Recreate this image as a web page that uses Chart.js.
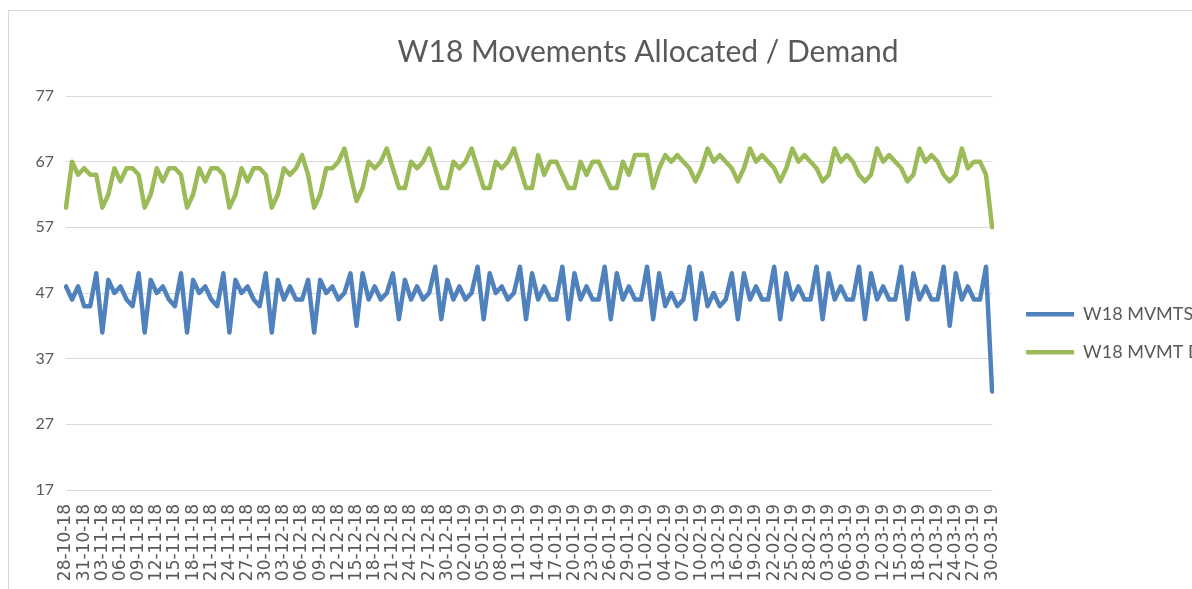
<!DOCTYPE html>
<html>
<head>
<meta charset="utf-8">
<script src="https://cdn.jsdelivr.net/npm/chart.js@4"></script>
<style>
  html, body { margin: 0; padding: 0; background: #fff; overflow: hidden; }
  #frame { position: absolute; left: 8px; top: 10px; width: 1282px; height: 590px; border: 1px solid #d9d9d9; }
  canvas { display: block; }
</style>
</head>
<body>
<div id="frame"><canvas id="myChart" width="1282" height="580"></canvas></div>
<script>
// daily categories 28-10-18 .. 30-03-19
const startDate = new Date(2018, 9, 28);
const dayCount = 154;
const dates = [];
for (let i = 0; i < dayCount; i++) {
  const d = new Date(startDate.getFullYear(), startDate.getMonth(), startDate.getDate() + i);
  const dd = String(d.getDate()).padStart(2, '0');
  const mm = String(d.getMonth() + 1).padStart(2, '0');
  const yy = String(d.getFullYear()).slice(2);
  dates.push(dd + '-' + mm + '-' + yy);
}

// W18 MVMTS (allocated), one row per week
const movements = [
  48, 46, 48, 45, 45, 50, 41,
  49, 47, 48, 46, 45, 50, 41,
  49, 47, 48, 46, 45, 50, 41,
  49, 47, 48, 46, 45, 50, 41,
  49, 47, 48, 46, 45, 50, 41,
  49, 46, 48, 46, 46, 49, 41,
  49, 47, 48, 46, 47, 50, 42,
  50, 46, 48, 46, 47, 50, 43,
  49, 46, 48, 46, 47, 51, 43,
  49, 46, 48, 46, 47, 51, 43,
  50, 47, 48, 46, 47, 51, 43,
  50, 46, 48, 46, 46, 51, 43,
  50, 46, 48, 46, 46, 51, 43,
  50, 46, 48, 46, 46, 51, 43,
  50, 45, 47, 45, 46, 51, 43,
  50, 45, 47, 45, 46, 50, 43,
  50, 46, 48, 46, 46, 51, 43,
  50, 46, 48, 46, 46, 51, 43,
  50, 46, 48, 46, 46, 51, 43,
  50, 46, 48, 46, 46, 51, 43,
  50, 46, 48, 46, 46, 51, 42,
  50, 46, 48, 46, 46, 51, 32
];

// W18 MVMT Demand
const demand = [
  60, 67, 65, 66, 65, 65, 60,
  62, 66, 64, 66, 66, 65, 60,
  62, 66, 64, 66, 66, 65, 60,
  62, 66, 64, 66, 66, 65, 60,
  62, 66, 64, 66, 66, 65, 60,
  62, 66, 65, 66, 68, 65, 60,
  62, 66, 66, 67, 69, 65, 61,
  63, 67, 66, 67, 69, 66, 63,
  63, 67, 66, 67, 69, 66, 63,
  63, 67, 66, 67, 69, 66, 63,
  63, 67, 66, 67, 69, 66, 63,
  63, 68, 65, 67, 67, 65, 63,
  63, 67, 65, 67, 67, 65, 63,
  63, 67, 65, 68, 68, 68, 63,
  66, 68, 67, 68, 67, 66, 64,
  66, 69, 67, 68, 67, 66, 64,
  66, 69, 67, 68, 67, 66, 64,
  66, 69, 67, 68, 67, 66, 64,
  65, 69, 67, 68, 67, 65, 64,
  65, 69, 67, 68, 67, 66, 64,
  65, 69, 67, 68, 67, 65, 64,
  65, 69, 66, 67, 67, 65, 57
];

const yMin = 17;
const yMax = 77;
const yStep = 10;
const labelEvery = 3;

const textColor = '#595959';
const gridColor = '#d9d9d9';

const ctx = document.getElementById('myChart');
window.myChart = new Chart(ctx, {
  type: 'line',
  data: {
    labels: dates,
    datasets: [
      {
        label: 'W18 MVMTS', data: movements,
        borderColor: '#4f81bd', backgroundColor: '#4f81bd', borderWidth: 4.5,
        pointRadius: 0, tension: 0, borderJoinStyle: 'round', borderCapStyle: 'round'
      },
      {
        label: 'W18 MVMT Demand', data: demand,
        borderColor: '#9bbb59', backgroundColor: '#9bbb59', borderWidth: 4.5,
        pointRadius: 0, tension: 0, borderJoinStyle: 'round', borderCapStyle: 'round'
      }
    ]
  },
  options: {
    responsive: false,
    animation: false,
    layout: { padding: { left: 22, right: 26, top: 0, bottom: 0 } },
    plugins: {
      title: {
        display: true,
        text: 'W18 Movements Allocated / Demand',
        color: textColor,
        font: { family: 'Lato', size: 30, weight: 'normal' },
        padding: { top: 23, bottom: 26 }
      },
      legend: {
        position: 'right',
        // empty title only pushes the two entries down a little
        title: { display: true, text: ' ', font: { size: 12 }, padding: { top: 0, bottom: 50 } },
        labels: {
          color: textColor,
          font: { family: 'Lato', size: 18 },
          usePointStyle: true,
          pointStyle: 'line',
          pointStyleWidth: 48,
          padding: 20
        }
      },
      tooltip: { enabled: false }
    },
    scales: {
      x: {
        grid: { display: false, drawTicks: false, tickLength: 0 },
        border: { display: false },
        afterFit: (scale) => { scale.height = 101; },
        ticks: {
          autoSkip: false,
          maxRotation: 90,
          minRotation: 90,
          padding: 14,
          color: textColor,
          font: { family: 'DejaVu Sans', size: 17 },
          callback: function (val, index) {
            return index % labelEvery === 0 ? this.getLabelForValue(val) : '';
          }
        }
      },
      y: {
        min: yMin,
        max: yMax,
        grid: { color: gridColor, lineWidth: 1, drawTicks: false },
        border: { display: false },
        afterFit: (scale) => { scale.width = 35; },
        ticks: {
          stepSize: yStep,
          padding: 12,
          color: textColor,
          font: { family: 'Lato', size: 16 }
        }
      },
      // hidden spacer between plot and legend
      gap: {
        position: 'right',
        display: false,
        afterFit: (scale) => { scale.width = 14; }
      }
    }
  }
});
</script>
</body>
</html>
